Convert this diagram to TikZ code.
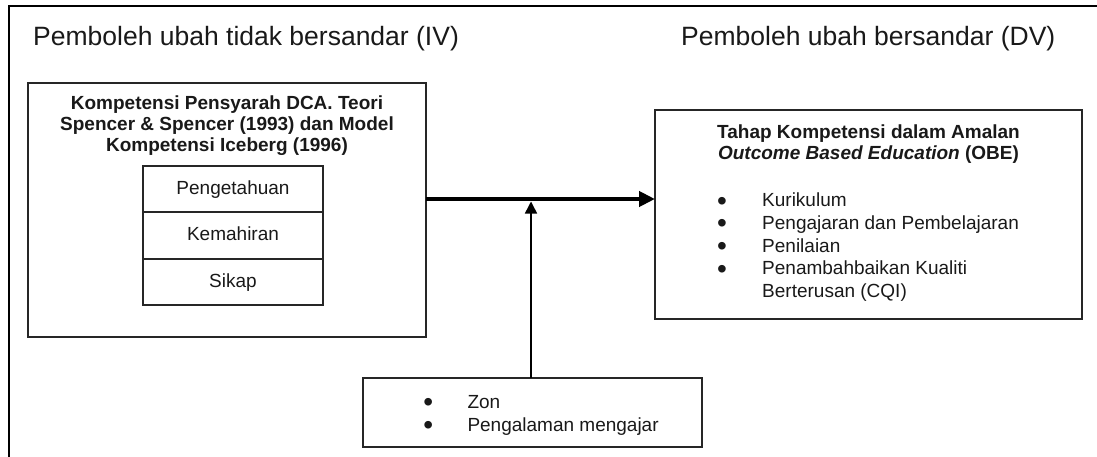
\documentclass[tikz,border=0pt]{standalone}
\usepackage{fontspec}
\setmainfont{Liberation Sans}
\usetikzlibrary{arrows.meta,calc}

\tikzset{
  ink/.style={text=black!90},
  head/.style={ink, inner sep=0pt, anchor=base west, font=\fontsize{26.5}{30}\selectfont},
  ttl/.style={ink, inner sep=0pt, anchor=base, font=\fontsize{19}{22}\selectfont\bfseries},
  item/.style={ink, inner sep=0pt, anchor=base west, font=\fontsize{19}{22}\selectfont},
  dot/.style={ink, inner sep=0pt, anchor=base, text height=12pt, text depth=0pt,
    font=\fontsize{28}{22}\selectfont},
  box/.style={draw=black!85, line width=2pt, inner sep=0pt, outer sep=0pt},
  cell/.style={draw=black!85, line width=1.3pt, inner sep=0pt, outer sep=0pt,
    minimum width=180pt, text height=14pt, text depth=4pt, ink,
    font=\fontsize{19}{22}\selectfont},
  frame/.style={draw=black, line width=2pt},
  mainarrow/.style={line width=4.5pt, -{Triangle[length=16pt,width=15pt]}},
  subarrow/.style={line width=1.5pt, -{Triangle[length=12pt,width=12pt]}},
}

\begin{document}
\begin{tikzpicture}[x=1pt,y=-1pt]
\useasboundingbox (0,0) rectangle (1097,457);

% open outer frame
\draw[frame] (9,462) -- (9,6) -- (1102,6);

% headings
\node[head] (hiv) at (33,45.5) {Pemboleh ubah tidak bersandar (IV)};
\node[head] (hdv) at (681,45.5) {Pemboleh ubah bersandar (DV)};

% independent variable box
\node[box, minimum width=398pt, minimum height=254pt] (iv) at (227,210) {};
\node[ttl] (iv1) at (227,110) {Kompetensi Pensyarah DCA. Teori};
\node[ttl] (iv2) at (227,131) {Spencer \& Spencer (1993) dan Model};
\node[ttl] (iv3) at (227,152) {Kompetensi Iceberg (1996)};
\node[cell, minimum height=46pt] (c1) at (233,189) {Pengetahuan};
\node[cell, minimum height=47pt] (c2) at (233,235.5) {Kemahiran};
\node[cell, minimum height=46pt] (c3) at (233,282) {Sikap};

% dependent variable box
\node[box, minimum width=427pt, minimum height=209pt] (dv) at (868.5,214.5) {};
\node[ttl] (dv1) at (868.5,139) {Tahap Kompetensi dalam Amalan};
\node[ttl] (dv2) at (868.5,160) {\itshape Outcome Based Education\upshape{} (OBE)};
\node[dot] (b1) at (722,210.5) {\textbullet};
\node[item] (t1) at (762,207) {Kurikulum};
\node[dot] (b2) at (722,233) {\textbullet};
\node[item] (t2) at (762,229.5) {Pengajaran dan Pembelajaran};
\node[dot] (b3) at (722,255.5) {\textbullet};
\node[item] (t3) at (762,252) {Penilaian};
\node[dot] (b4) at (722,278) {\textbullet};
\node[item] (t4) at (762,274.5) {Penambahbaikan Kualiti};
\node[item] (t5) at (762,297) {Berterusan (CQI)};

% moderating factors box
\node[box, minimum width=339pt, minimum height=68.4pt] (mod) at (532.3,412.5) {};
\node[dot] (m1) at (428.3,411.5) {\textbullet};
\node[item] (mt1) at (467.3,408) {Zon};
\node[dot] (m2) at (428.3,434.5) {\textbullet};
\node[item] (mt2) at (467.3,431) {Pengalaman mengajar};

% connectors
\coordinate (jn) at (531,199);
\draw[mainarrow] (iv.east |- jn) -- (dv.west |- jn);
\draw[subarrow] (mod.north -| jn) -- ([yshift=-2.5pt]jn);
\end{tikzpicture}
\end{document}
